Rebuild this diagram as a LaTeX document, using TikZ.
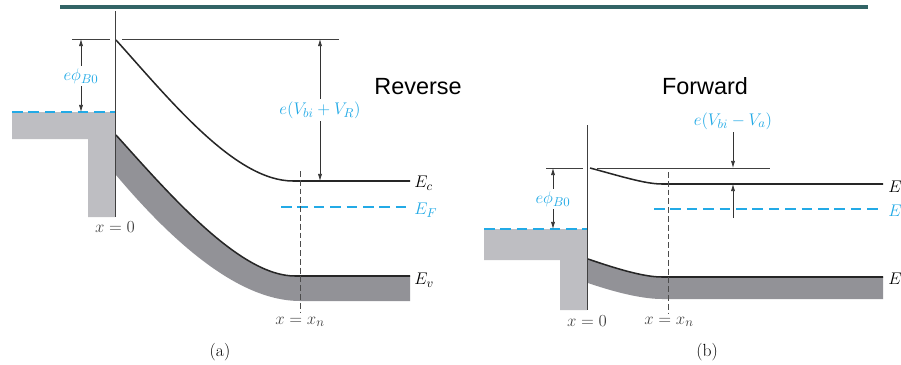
\documentclass[tikz,border=0pt]{standalone}
\usepackage{amsmath,amssymb}
\usepackage{fontspec}
\newfontfamily\headfont{Liberation Sans}
\usepackage{xcolor}
\usepackage{tikz}
\usetikzlibrary{arrows.meta, positioning}

\definecolor{fermiblue}{RGB}{35,170,230}
\definecolor{metalgray}{RGB}{190,190,194}
\definecolor{bandgray}{RGB}{146,146,151}
\definecolor{barteal}{RGB}{50,100,102}

\begin{document}
\begin{tikzpicture}[
    x=0.03cm, y=-0.03cm,
    lbl/.style={font=\fontsize{15}{17}\selectfont, inner sep=1pt},
    energy/.style={lbl, anchor=west},
    dimlabel/.style={lbl, text=fermiblue, inner sep=2pt},
    axislabel/.style={lbl, text=black!75},
    headtext/.style={font=\headfont\fontsize{20}{24}\selectfont},
    bandedge/.style={line width=1.3pt, black!85},
    thinline/.style={line width=0.7pt, black!75},
    fermi/.style={line width=1.6pt, fermiblue, dash pattern=on 9pt off 5pt},
    xnline/.style={line width=0.6pt, black!70, dash pattern=on 5pt off 2.5pt},
    dimarrow/.style={-{Latex[length=6pt,width=3.5pt]}, line width=0.6pt, black!80},
]
\useasboundingbox (0,0) rectangle (901,364);

\draw[barteal, line width=3pt] (60,7) -- (868,7);

% (a) reverse bias
\fill[metalgray] (12,112) -- (115,112) -- (115,217) -- (88,217) -- (88,139) -- (12,139) -- cycle;
\fill[bandgray] (116,135) .. controls (170,195) and (240,276) .. (295,276) -- (410,276) -- (410,301) -- (300,301) .. controls (240,301) and (175,245) .. (116,175) -- cycle;
\draw[bandedge] (116,135) .. controls (170,195) and (240,276) .. (295,276) -- (410,276);
\draw[bandedge] (116,40) .. controls (170,100) and (235,181) .. (293,181) -- (410,181);
\draw[thinline] (115,11) -- (115,217);
\draw[thinline] (72,39) -- (110,39);
\draw[thinline] (122,39) -- (339,39);
\draw[fermi] (12,112) -- (115,112);
\draw[fermi] (281,207) -- (410,207);
\draw[xnline] (300,171) -- (300,312);

\node[dimlabel] (phiA) at (81,76) {$e\phi_{B0}$};
\coordinate (phiAtop) at (81,39);
\coordinate (phiAbot) at (81,112);
\draw[dimarrow] (phiA) -- (phiAtop);
\draw[dimarrow] (phiA) -- (phiAbot);

\node[dimlabel] (vbiA) at (320,110) {$e(V_{bi} + V_R)$};
\coordinate (vbiAtop) at (320,39);
\coordinate (vbiAbot) at (320,181);
\draw[dimarrow] (vbiA) -- (vbiAtop);
\draw[dimarrow] (vbiA) -- (vbiAbot);

\node[energy] (ecA) at (413,183) {$E_c$};
\node[energy, text=fermiblue] (efA) at (413,210) {$E_F$};
\node[energy] (evA) at (413,280) {$E_v$};
\node[axislabel] (x0A) at (115,227) {$x = 0$};
\node[axislabel] (xnA) at (300,322) {$x = x_n$};
\node[lbl] (capA) at (220,352) {(a)};
\node[headtext] (rev) at (418,87) {Reverse};

% (b) forward bias
\fill[metalgray] (484,229) -- (587,229) -- (587,310) -- (560,310) -- (560,260) -- (484,260) -- cycle;
\fill[bandgray] (588,259) .. controls (620,270) and (645,277) .. (662,277) -- (883,277) -- (883,299) -- (662,299) .. controls (645,299) and (620,294) .. (588,283) -- cycle;
\draw[bandedge] (588,259) .. controls (620,270) and (645,277) .. (662,277) -- (883,277);
\draw[bandedge] (590,168) .. controls (620,176) and (645,184) .. (662,184) -- (883,184);
\draw[thinline] (587,125) -- (587,310);
\draw[thinline] (546,168) -- (583,168);
\draw[thinline] (597,168) -- (770,168);
\draw[fermi] (484,229) -- (587,229);
\draw[fermi] (654,209) -- (883,209);
\draw[xnline] (668,172) -- (668,313);

\node[dimlabel] (phiB) at (553,199) {$e\phi_{B0}$};
\coordinate (phiBtop) at (553,168);
\coordinate (phiBbot) at (553,229);
\draw[dimarrow] (phiB) -- (phiBtop);
\draw[dimarrow] (phiB) -- (phiBbot);

\node[dimlabel] (vaB) at (733,121) {$e(V_{bi} - V_a)$};
\coordinate (vaBtop) at (733,168);
\coordinate (vaBtail) at (733,218);
\coordinate (vaBbot) at (733,184);
\draw[dimarrow] (vaB) -- (vaBtop);
\draw[dimarrow] (vaBtail) -- (vaBbot);

\node[energy] (ecB) at (887,187) {$E$};
\node[energy, text=fermiblue] (efB) at (887,211) {$E$};
\node[energy] (evB) at (887,279) {$E$};
\node[axislabel] (x0B) at (587,321) {$x = 0$};
\node[axislabel] (xnB) at (669,322) {$x = x_n$};
\node[lbl] (capB) at (707,352) {(b)};
\node[headtext] (fwd) at (705,86) {Forward};

\end{tikzpicture}
\end{document}
